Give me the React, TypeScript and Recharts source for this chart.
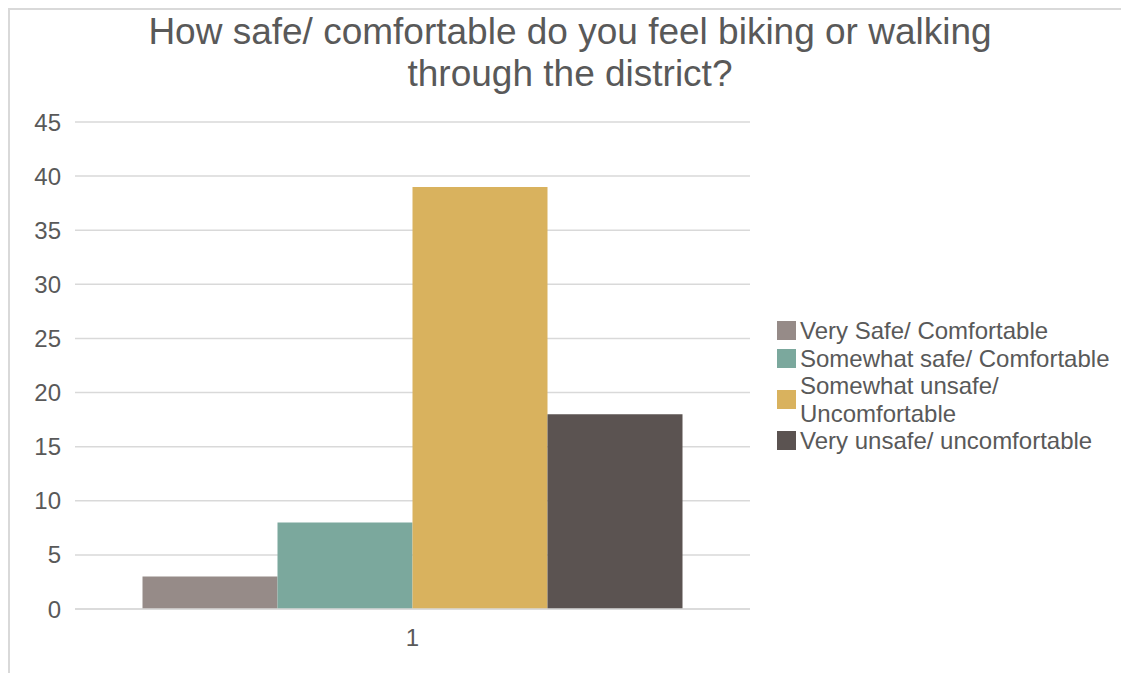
import { BarChart, Bar, XAxis, YAxis, CartesianGrid, Legend } from "recharts";

const titleLines = ["How safe/ comfortable do you feel biking or walking", "through the district?"];
const categories = ["1"];
const seriesNames = [
  "Very Safe/ Comfortable",
  "Somewhat safe/ Comfortable",
  "Somewhat unsafe/ Uncomfortable",
  "Very unsafe/ uncomfortable",
];
const seriesValues = [3, 8, 39, 18];
const seriesColors = ["#968b88", "#7ba89d", "#d9b25e", "#5b5351"];
const yTicks = [0, 5, 10, 15, 20, 25, 30, 35, 40, 45];

const FONT = '"Liberation Sans", Arial, sans-serif';
const TEXT = "#595959";
const LEGEND_W = 344;

const data = categories.map((c) => {
  const row: Record<string, any> = { name: c };
  seriesNames.forEach((s, i) => (row[s] = seriesValues[i]));
  return row;
});

const LegendBox = () => (
  <div style={{ fontFamily: FONT, fontSize: 24, color: TEXT, lineHeight: "27.5px" }}>
    {seriesNames.map((s, i) => (
      <div key={s} style={{ display: "flex", alignItems: "center" }}>
        <div style={{ width: 19, height: 19, background: seriesColors[i], marginRight: 4, flexShrink: 0 }} />
        <div style={{ width: 318 }}>{s}</div>
      </div>
    ))}
  </div>
);

export default function App() {
  return (
    <div style={{ position: "absolute", left: 0, top: 0, width: 1121, height: 673, overflow: "hidden", background: "#fff" }}>
      {/* rand van het grafiekvak */}
      <div
        style={{
          position: "absolute",
          left: 8,
          top: 8,
          width: 1200,
          height: 700,
          borderTop: "2px solid #d9d9d9",
          borderLeft: "2px solid #d9d9d9",
        }}
      />
      <div
        style={{
          position: "absolute",
          left: 0,
          top: 11,
          width: 1140,
          textAlign: "center",
          fontFamily: FONT,
          fontSize: 37,
          lineHeight: "42px",
          color: TEXT,
        }}
      >
        {titleLines.map((l) => (
          <div key={l}>{l}</div>
        ))}
      </div>
      <div style={{ position: "absolute", left: 0, top: 0 }}>
        <BarChart
          width={1121}
          height={673}
          data={data}
          margin={{ top: 122, right: 371 - LEGEND_W, bottom: 34, left: 0 }}
          barCategoryGap="10%"
          barGap={0}
        >
          <CartesianGrid vertical={false} stroke="#d9d9d9" strokeWidth={1.5} />
          <XAxis
            dataKey="name"
            height={30}
            tickLine={false}
            tickSize={0}
            tickMargin={20}
            axisLine={{ stroke: "#d9d9d9", strokeWidth: 1.5 }}
            tick={{ fill: TEXT, fontSize: 24, fontFamily: FONT }}
          />
          <YAxis
            width={75}
            domain={[0, 45]}
            ticks={yTicks}
            interval={0}
            axisLine={false}
            tickLine={false}
            tickSize={0}
            tickMargin={14}
            tick={{ fill: TEXT, fontSize: 24, fontFamily: FONT }}
          />
          <Legend
            layout="vertical"
            verticalAlign="middle"
            align="right"
            wrapperStyle={{ left: 777, top: 317, width: LEGEND_W }}
            content={<LegendBox />}
          />
          {seriesNames.map((s, i) => (
            <Bar key={s} dataKey={s} fill={seriesColors[i]} isAnimationActive={false} />
          ))}
        </BarChart>
      </div>
    </div>
  );
}
